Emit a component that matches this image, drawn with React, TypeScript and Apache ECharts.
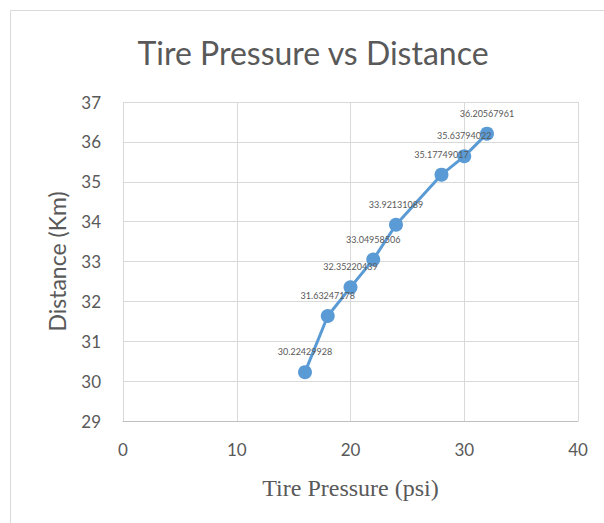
import React, { useEffect, useRef } from "react";
import * as echarts from "echarts";

const pressures = [16, 18, 20, 22, 24, 28, 30, 32];
const distances = [30.22429928, 31.63247178, 32.35220439, 33.04958506, 33.92131089, 35.17749017, 35.63794022, 36.20567961];
const titleText = "Tire Pressure vs Distance";
const xName = "Tire Pressure (psi)";
const yName = "Distance (Km)";

export default function App() {
  const ref = useRef<HTMLDivElement>(null);
  useEffect(() => {
    if (!ref.current) return;
    const chart = echarts.init(ref.current, null, { renderer: "svg" });
    const grey = "#595959";
    chart.setOption({
      animation: false,
      backgroundColor: "#ffffff",
      graphic: [
        {
          type: "rect",
          shape: { x: 10.5, y: 10.5, width: 700, height: 700 },
          style: { fill: "none", stroke: "#d9d9d9", lineWidth: 1 },
          silent: true,
        },
        {
          type: "text",
          x: 313,
          y: 52,
          style: {
            text: titleText,
            align: "center",
            verticalAlign: "middle",
            fontFamily: "Lato",
            fontSize: 32,
            fill: grey,
          },
          silent: true,
        },
      ],
      grid: { left: 123, right: 26, top: 102, bottom: 102 },
      xAxis: {
        type: "value",
        min: 0,
        max: 40,
        interval: 10,
        name: xName,
        nameLocation: "middle",
        nameGap: 55,
        nameTextStyle: { fontFamily: "Liberation Serif", fontSize: 24, color: grey },
        axisLine: { show: true, lineStyle: { color: "#bfbfbf", width: 1 } },
        axisTick: { show: false },
        axisLabel: { fontFamily: "Lato", fontSize: 17, color: grey, margin: 20 },
        splitLine: { show: true, lineStyle: { color: "#d9d9d9", width: 1 } },
      },
      yAxis: {
        type: "value",
        min: 29,
        max: 37,
        interval: 1,
        name: yName,
        nameLocation: "middle",
        nameGap: 55,
        nameTextStyle: { fontFamily: "Lato", fontSize: 23, color: grey },
        axisLine: { show: false },
        axisTick: { show: false },
        axisLabel: { fontFamily: "Lato", fontSize: 17, color: grey, margin: 22 },
        splitLine: { show: true, lineStyle: { color: "#d9d9d9", width: 1 } },
      },
      series: [
        {
          type: "line",
          data: pressures.map((p, i) => [p, distances[i]]),
          symbol: "circle",
          symbolSize: 14,
          itemStyle: { color: "#5b9bd5" },
          lineStyle: { color: "#5b9bd5", width: 3 },
          label: {
            show: true,
            position: "top",
            distance: 9,
            fontFamily: "Lato",
            fontSize: 9,
            color: grey,
            formatter: (p: any) => String(p.value[1]),
          },
        },
      ],
    });
    return () => chart.dispose();
  }, []);
  return (
    <div
      ref={ref}
      style={{ position: "absolute", left: 0, top: 0, width: 604, height: 523 }}
    />
  );
}
